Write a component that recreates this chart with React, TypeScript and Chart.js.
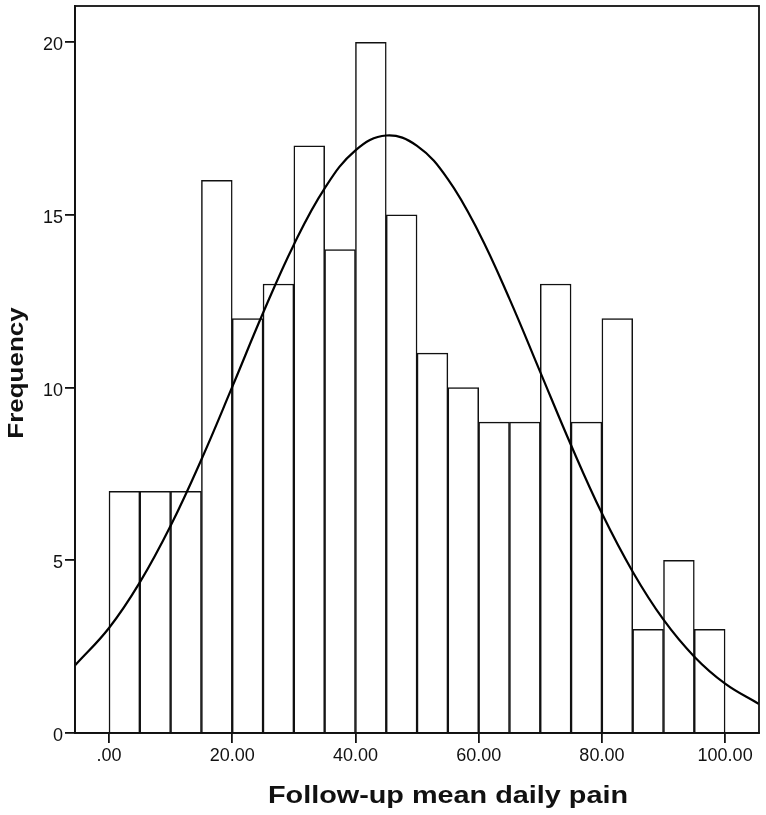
import React, { useEffect, useRef } from "react";
import { Chart, registerables } from "chart.js";

Chart.register(...registerables);

// Histogram bins (left edges, width 5) and frequencies
const BIN_LEFT = [0, 5, 10, 15, 20, 25, 30, 35, 40, 45, 50, 55, 60, 65, 70, 75, 80, 85, 90, 95];
const BIN_WIDTH = 5;
const FREQUENCY = [7, 7, 7, 16, 12, 13, 17, 14, 20, 15, 11, 10, 9, 9, 13, 9, 12, 3, 5, 3];

// Normal curve
const CURVE_X = [-5.5, 0, 5, 10, 15, 20, 25, 30, 35, 40, 45, 50, 55, 60, 65, 70, 75, 80, 85, 90, 95, 100, 105.5];
const CURVE_Y = [1.96, 3.04, 4.36, 6.0, 7.92, 10.02, 12.16, 14.14, 15.77, 16.87, 17.3, 17.0, 16.04, 14.5, 12.57, 10.45, 8.33, 6.36, 4.67, 3.28, 2.21, 1.43, 0.84];

// Axis ticks
const X_TICK_VALUES = [0, 20, 40, 60, 80, 100];
const X_TICK_LABELS = [".00", "20.00", "40.00", "60.00", "80.00", "100.00"];
const Y_TICK_VALUES = [0, 5, 10, 15, 20];
const Y_TICK_LABELS = ["0", "5", "10", "15", "20"];

const X_TITLE = "Follow-up mean daily pain";
const Y_TITLE = "Frequency";

const FONT = "'Liberation Sans', Arial, sans-serif";

export default function App() {
  const ref = useRef<HTMLCanvasElement | null>(null);

  useEffect(() => {
    const canvas = ref.current;
    if (!canvas) return;

    const framePlugin = {
      id: "frameAndTitles",
      afterDraw(chart: any) {
        const { ctx, chartArea } = chart;
        ctx.save();
        ctx.strokeStyle = "#111";
        ctx.lineWidth = 1.8;
        ctx.strokeRect(chartArea.left, chartArea.top, chartArea.right - chartArea.left, chartArea.bottom - chartArea.top);
        ctx.fillStyle = "#111";
        ctx.textAlign = "center";
        ctx.textBaseline = "alphabetic";
        ctx.save();
        ctx.translate(448, 803);
        ctx.scale(1.2, 1);
        ctx.font = `bold 24px ${FONT}`;
        ctx.fillText(X_TITLE, 0, 0);
        ctx.restore();
        ctx.save();
        ctx.translate(23, 373);
        ctx.rotate(-Math.PI / 2);
        ctx.scale(1.18, 1);
        ctx.font = `bold 22px ${FONT}`;
        ctx.fillText(Y_TITLE, 0, 0);
        ctx.restore();
        ctx.restore();
      },
    };

    const chart = new Chart(canvas, {
      type: "bar",
      data: {
        datasets: [
          {
            type: "line",
            data: CURVE_X.map((x, i) => ({ x, y: CURVE_Y[i] })),
            borderColor: "#000",
            borderWidth: 2.2,
            pointRadius: 0,
            tension: 0.4,
            fill: false,
            order: 0,
          } as any,
          {
            type: "bar",
            data: BIN_LEFT.map((l, i) => ({ x: l + BIN_WIDTH / 2, y: FREQUENCY[i] })),
            backgroundColor: "#fff",
            borderColor: "#111",
            borderWidth: 1.5,
            borderSkipped: "start",
            barPercentage: 1,
            categoryPercentage: 1,
            grouped: false,
            order: 1,
          } as any,
        ],
      },
      options: {
        responsive: false,
        animation: false,
        layout: { padding: { left: 0, top: 6, right: 7, bottom: 0 } },
        plugins: {
          legend: { display: false },
          tooltip: { enabled: false },
          title: { display: false },
        },
        scales: {
          x: {
            type: "linear",
            offset: false,
            min: -5.52,
            max: 105.5,
            afterFit(scale: any) {
              scale.height = 82;
              scale.paddingLeft = 0;
              scale.paddingRight = 0;
            },
            afterBuildTicks(scale: any) {
              scale.ticks = X_TICK_VALUES.map((v) => ({ value: v }));
            },
            ticks: {
              autoSkip: false,
              maxRotation: 0,
              padding: 2,
              color: "#111",
              font: { family: FONT, size: 18 },
              callback: (v: any) => {
                const i = X_TICK_VALUES.indexOf(Number(v));
                return i >= 0 ? X_TICK_LABELS[i] : "";
              },
            },
            grid: {
              display: true,
              offset: false,
              drawOnChartArea: false,
              drawTicks: true,
              tickLength: 10,
              color: "#111",
              lineWidth: 1.8,
            },
            border: { display: true, color: "#111", width: 1.8 },
          },
          y: {
            type: "linear",
            min: 0,
            max: 21.05,
            afterFit(scale: any) {
              scale.width = 75;
              scale.paddingTop = 0;
              scale.paddingBottom = 0;
            },
            afterBuildTicks(scale: any) {
              scale.ticks = Y_TICK_VALUES.map((v) => ({ value: v }));
            },
            ticks: {
              autoSkip: false,
              padding: 2,
              labelOffset: 3,
              color: "#111",
              font: { family: FONT, size: 18 },
              callback: (v: any) => {
                const i = Y_TICK_VALUES.indexOf(Number(v));
                return i >= 0 ? Y_TICK_LABELS[i] : "";
              },
            },
            grid: {
              display: true,
              drawOnChartArea: false,
              drawTicks: true,
              tickLength: 10,
              color: "#111",
              lineWidth: 1.8,
            },
            border: { display: true, color: "#111", width: 1.8 },
          },
        },
      },
      plugins: [framePlugin],
    } as any);

    return () => {
      chart.destroy();
    };
  }, []);

  return (
    <div style={{ position: "fixed", left: 0, top: 0, width: 766, height: 815, background: "#fff" }}>
      <canvas ref={ref} width={766} height={815} />
    </div>
  );
}
